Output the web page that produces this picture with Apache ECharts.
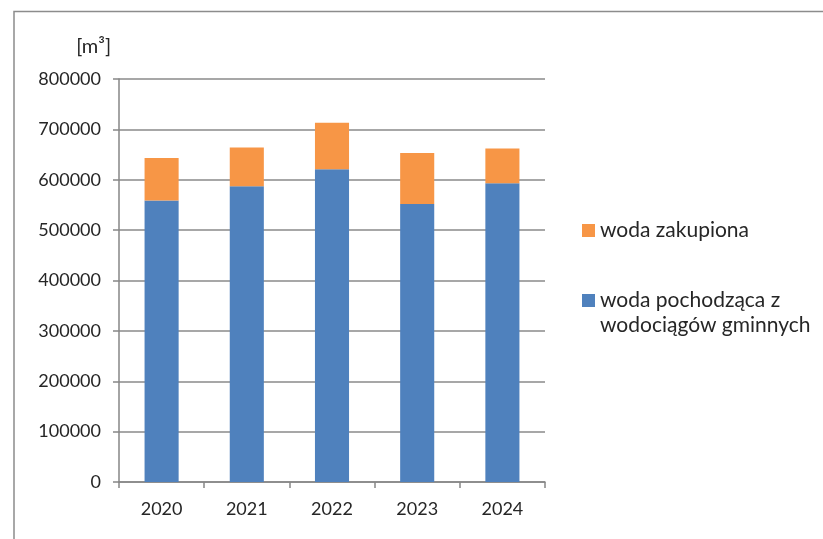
<!DOCTYPE html>
<html>
<head>
<meta charset="utf-8">
<script src="https://cdn.jsdelivr.net/npm/echarts@6/dist/echarts.min.js"></script>
<style>
    html, body { margin: 0; padding: 0; background: #fff; }
    #chart { width: 823px; height: 539px; }
</style>
</head>
<body>
<div id="chart"></div>
<script>
// lata
var years = ['2020', '2021', '2022', '2023', '2024'];
// woda z wodociągów gminnych [m3]
var wodaGminna = [559000, 587000, 621000, 552000, 593000];
// woda zakupiona [m3]
var wodaZakupiona = [84000, 77000, 92000, 101000, 69000];

var FONT = 'Lato';

window.onload = function () {
    var myChart = echarts.init(document.getElementById('chart'));

    var option = {
        backgroundColor: '#fff',
        animation: false,
        textStyle: { fontFamily: FONT },
        grid: {
            left: 119,
            right: 278,
            top: 79,
            bottom: 57
        },
        legend: [{
            orient: 'vertical',
            left: 582,
            top: 220,
            padding: 0,
            itemWidth: 13,
            itemHeight: 13,
            icon: 'rect',
            data: ['woda zakupiona'],
            textStyle: { fontSize: 21, color: '#262626', fontFamily: FONT }
        }, {
            orient: 'vertical',
            left: 582,
            top: 263,
            padding: 0,
            itemWidth: 13,
            itemHeight: 13,
            icon: 'rect',
            data: ['woda pochodząca z\nwodociągów gminnych'],
            // pusta linia u góry, żeby pierwsza linia tekstu stała na wysokości ikony
            formatter: function (name) { return ' \n' + name; },
            textStyle: {
                fontSize: 21,
                lineHeight: 25,
                color: '#262626',
                fontFamily: FONT
            }
        }],
        xAxis: {
            type: 'category',
            data: years,
            axisLine: { lineStyle: { color: '#868686', width: 1.5 } },
            axisTick: { show: true, length: 6, lineStyle: { color: '#868686', width: 1.5 } },
            axisLabel: { color: '#262626', fontSize: 18, margin: 18 }
        },
        yAxis: {
            type: 'value',
            min: 0,
            max: 800000,
            interval: 100000,
            name: '[m³]',
            nameLocation: 'end',
            nameGap: 22,
            nameTextStyle: { color: '#262626', fontSize: 20, align: 'right', padding: [0, 8, 0, 0] },
            axisLine: { show: true, lineStyle: { color: '#868686', width: 1.5 } },
            axisTick: { show: true, length: 6, lineStyle: { color: '#868686', width: 1.5 } },
            axisLabel: {
                color: '#262626',
                fontSize: 18,
                margin: 18,
                formatter: function (v) { return String(v); }
            },
            splitLine: { lineStyle: { color: '#8a8a8a', width: 1.5 } }
        },
        series: [{
            name: 'woda pochodząca z\nwodociągów gminnych',
            type: 'bar',
            stack: 'woda',
            barWidth: '40%',
            itemStyle: { color: '#4F81BD' },
            data: wodaGminna
        }, {
            name: 'woda zakupiona',
            type: 'bar',
            stack: 'woda',
            barWidth: '40%',
            itemStyle: { color: '#F79646' },
            data: wodaZakupiona
        }],
        graphic: [{
            type: 'polyline',
            silent: true,
            shape: { points: [[14, 539], [14, 11.5], [823, 11.5]] },
            style: { stroke: '#8c8c8c', lineWidth: 1.5, fill: null }
        }]
    };
    myChart.setOption(option);
};
</script>
</body>
</html>
